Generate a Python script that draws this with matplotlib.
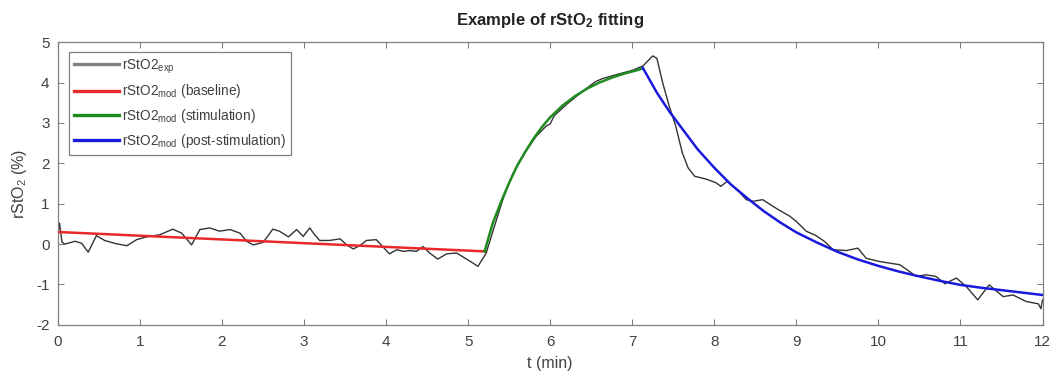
import matplotlib
matplotlib.use("Agg")
import matplotlib.pyplot as plt

plt.rcParams['font.family'] = ['Liberation Sans', 'DejaVu Sans']
plt.rcParams['mathtext.default'] = 'regular'
plt.rcParams['axes.unicode_minus'] = False

# measured signal (rStO2_exp)
t_exp = [0.00, 0.02, 0.05, 0.085, 0.21, 0.29, 0.37, 0.47, 0.57, 0.71, 0.84, 0.96, 1.08, 1.24,
         1.40, 1.51, 1.63, 1.73, 1.85, 1.97, 2.10, 2.22, 2.30, 2.38, 2.50, 2.62, 2.70, 2.81,
         2.91, 2.99, 3.07, 3.13, 3.19, 3.31, 3.44, 3.52, 3.60, 3.68, 3.76, 3.88, 3.94, 4.04,
         4.13, 4.21, 4.29, 4.37, 4.45, 4.53, 4.63, 4.74, 4.86, 4.98, 5.12, 5.22, 5.32, 5.43,
         5.55, 5.69, 5.83, 5.95, 6.00, 6.05, 6.20, 6.40, 6.55, 6.64, 6.85, 7.00, 7.13, 7.25,
         7.30, 7.37, 7.45, 7.53, 7.61, 7.68, 7.76, 7.90, 8.02, 8.08, 8.16, 8.30, 8.39, 8.47,
         8.59, 8.75, 8.92, 9.00, 9.12, 9.24, 9.34, 9.45, 9.61, 9.75, 9.85, 10.01, 10.26, 10.38,
         10.46, 10.58, 10.70, 10.81, 10.95, 11.07, 11.21, 11.35, 11.52, 11.64, 11.80, 11.95,
         11.98, 12.00]
y_exp = [0.25, 0.52, 0.05, 0.00, 0.07, 0.02, -0.20, 0.21, 0.09, 0.01, -0.04, 0.11, 0.18, 0.23,
         0.37, 0.27, -0.02, 0.36, 0.40, 0.32, 0.36, 0.27, 0.07, -0.02, 0.04, 0.37, 0.32, 0.18,
         0.36, 0.19, 0.40, 0.23, 0.09, 0.09, 0.13, -0.02, -0.12, -0.04, 0.09, 0.11, -0.02, -0.24,
         -0.14, -0.18, -0.16, -0.18, -0.06, -0.22, -0.37, -0.24, -0.22, -0.37, -0.55, -0.22, 0.44, 1.15,
         1.76, 2.26, 2.67, 2.92, 2.98, 3.18, 3.46, 3.79, 4.02, 4.10, 4.22, 4.30, 4.41, 4.66,
         4.60, 4.00, 3.42, 2.92, 2.26, 1.89, 1.68, 1.61, 1.52, 1.43, 1.56, 1.30, 1.10, 1.06,
         1.10, 0.89, 0.69, 0.56, 0.32, 0.21, 0.07, -0.14, -0.16, -0.10, -0.35, -0.43, -0.51, -0.68,
         -0.80, -0.76, -0.80, -0.98, -0.84, -1.05, -1.38, -1.01, -1.30, -1.26, -1.42, -1.48,
         -1.60, -1.38]

# baseline model
t_base = [0.0, 5.2]
y_base = [0.30, -0.18]

# stimulation model
t_stim = [5.20, 5.30, 5.40, 5.50, 5.60, 5.70, 5.80, 5.90, 6.00, 6.15, 6.30, 6.45, 6.60, 6.75,
          6.90, 7.05, 7.13]
y_stim = [-0.18, 0.52, 1.04, 1.52, 1.95, 2.30, 2.62, 2.90, 3.14, 3.43, 3.66, 3.85, 4.00, 4.12,
          4.22, 4.30, 4.35]

# post-stimulation model
t_post = [7.13, 7.30, 7.45, 7.60, 7.80, 8.00, 8.20, 8.40, 8.60, 8.80, 9.00, 9.25, 9.50, 9.75,
          10.00, 10.25, 10.50, 10.75, 11.00, 11.25, 11.50, 11.75, 12.00]
y_post = [4.36, 3.75, 3.29, 2.88, 2.34, 1.89, 1.48, 1.14, 0.82, 0.54, 0.29, 0.04, -0.19, -0.38,
          -0.54, -0.68, -0.80, -0.91, -1.01, -1.08, -1.14, -1.20, -1.26]

labels = ['rStO2$_{exp}$', 'rStO2$_{mod}$ (baseline)', 'rStO2$_{mod}$ (stimulation)',
          'rStO2$_{mod}$ (post-stimulation)']

fig = plt.figure(figsize=(10.52, 3.73), dpi=100)
ax = fig.add_axes([0.055, 0.129, 0.936, 0.758])

ax.plot(t_exp, y_exp, color='#333333', lw=1.0, label=labels[0], zorder=2)
ax.plot(t_base, y_base, color='#e8282a', lw=1.8, label=labels[1], zorder=3)
ax.plot(t_stim, y_stim, color='#1e8c1e', lw=1.8, label=labels[2], zorder=3)
ax.plot(t_post, y_post, color='#1a1adc', lw=1.8, label=labels[3], zorder=3)

ax.set_xlim(0, 12)
ax.set_ylim(-2, 5)
ax.set_xticks(range(0, 13))
ax.set_yticks(range(-2, 6))

for s in ax.spines.values():
    s.set_color('#808080')
    s.set_linewidth(0.9)
ax.tick_params(direction='in', top=True, right=True, length=4, width=0.8,
               colors='#808080', labelcolor='#404040', labelsize=11)
ax.tick_params(axis='x', pad=7)
ax.tick_params(axis='y', pad=6)

ax.set_title('Example of rStO$_2$ fitting', fontsize=12, fontweight='bold', color='#222222', pad=12)
ax.set_xlabel('t (min)', fontsize=11.5, color='#404040', labelpad=5)
ax.set_ylabel('rStO$_2$ (%)', fontsize=11.5, color='#404040', labelpad=5)

leg = ax.legend(loc='upper left', fontsize=9.8, handlelength=3.3, labelspacing=0.5,
                borderpad=0.4, handletextpad=0.2, fancybox=False, framealpha=1,
                edgecolor='#808080', bbox_to_anchor=(0.004, 0.99))
leg.get_frame().set_linewidth(0.9)
for txt in leg.get_texts():
    txt.set_color('#404040')
for h, c in zip(leg.get_lines(), ['#808080', '#e8282a', '#1e8c1e', '#1a1adc']):
    h.set_color(c)
    h.set_linewidth(2.4)

fig.savefig('out.png', dpi=100)
